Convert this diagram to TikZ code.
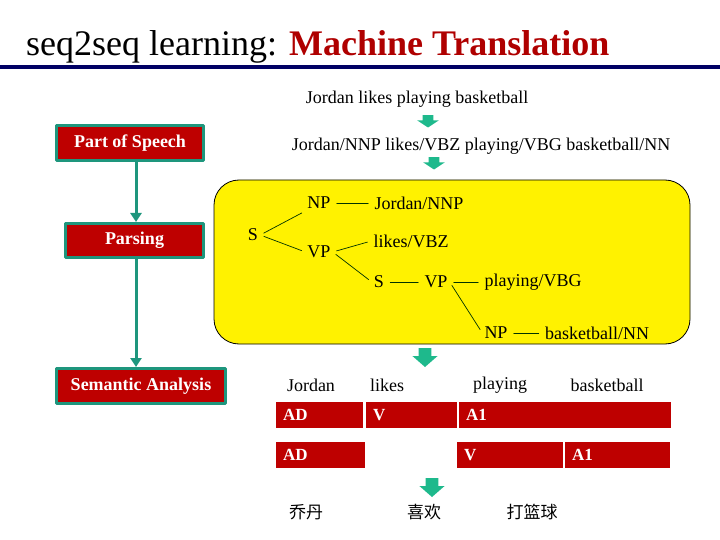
\documentclass[tikz,border=0pt]{standalone}
\usepackage{fontspec}
\setmainfont{Liberation Serif}
\newfontfamily\cjk{Noto Sans CJK SC}
\usetikzlibrary{arrows.meta}
\definecolor{boxred}{RGB}{190,0,0}
\definecolor{titlered}{RGB}{175,0,0}
\definecolor{tealline}{RGB}{30,150,125}
\definecolor{arrowgreen}{RGB}{30,185,140}
\definecolor{navyline}{RGB}{0,0,100}
\newcommand{\bodyfont}{\fontsize{18}{22}\selectfont}
\newcommand{\barfont}{\fontsize{17}{20}\selectfont}
\newcommand{\titlefont}{\fontsize{36}{40}\selectfont}
% dikke groene pijl omlaag: x, y, xscale, yscale
\newcommand{\blockdown}[4]{%
\fill[arrowgreen, shift={(#1,#2)}, xscale=#3, yscale=#4]
  (-6,-9) -- (6,-9) -- (6,-1) -- (12,-1) -- (0,10) -- (-12,-1) -- (-6,-1) -- cycle;}

\begin{document}
\begin{tikzpicture}[line cap=round,line join=round,x=1pt,y=-1pt,
  every node/.style={font=\bodyfont},
  stepbox/.style={draw=tealline,line width=3pt,fill=boxred,text=white,font=\bodyfont\bfseries},
  flow/.style={draw=tealline,line width=3pt,-{Triangle[width=11pt,length=9pt]}},
  bar/.style={fill=boxred,text=white,font=\barfont\bfseries,anchor=west,minimum height=26,inner xsep=7pt,align=left},
  branch/.style={draw=black!80!green,line width=0.7pt,shorten <=4pt,shorten >=4pt},
  leaf/.style={inner sep=2pt}]
\useasboundingbox (0,0) rectangle (720,540);

%titel
\node[anchor=base west,inner sep=0,font=\titlefont] (title) at (26,56)
  {seq2seq learning: \textcolor{titlered}{\bfseries Machine Translation}};
\draw[navyline,line width=4pt,line cap=butt] (0,67) -- (720,67);

%zinnen bovenaan
\node (sent) at (417,99) {Jordan likes playing basketball};
\node (tagged) at (481,146) {Jordan/NNP likes/VBZ playing/VBG basketball/NN};
\blockdown{428}{121}{0.9}{0.65}
\blockdown{434}{163}{0.9}{0.65}

%stappen links
\node[stepbox,minimum width=147,minimum height=35] (pos) at (130,143) {Part of Speech};
\node[stepbox,minimum width=138,minimum height=34] (pars) at (134.5,240.5) {Parsing};
\node[stepbox,minimum width=169,minimum height=35] (sem) at (141,386) {Semantic Analysis};
\coordinate (mid) at (136,0);
\draw[flow] (pos.south -| mid) -- (pars.north -| mid);
\draw[flow] (pars.south -| mid) -- (sem.north -| mid);

%parse boom
\node[draw,fill=yellow,line width=0.8pt,rounded corners=25pt,minimum width=476,minimum height=164] (treebox) at (452,262) {};
\node[leaf] (s1) at (253,235) {S};
\node[leaf] (np1) at (319,203) {NP};
\node[leaf] (vp1) at (319,252) {VP};
\node[leaf] (jor) at (419,203) {Jordan/NNP};
\node[leaf] (lik) at (411,241) {likes/VBZ};
\node[leaf] (s2) at (379,282) {S};
\node[leaf] (vp2) at (436,282) {VP};
\node[leaf] (pla) at (533,282) {playing/VBG};
\node[leaf] (np2) at (496,333) {NP};
\node[leaf] (bas) at (597,333) {basketball/NN};
\draw[branch] (s1.east) -- (np1.south west);
\draw[branch] (s1.east) -- (vp1.west);
\draw[branch] (np1) -- (jor);
\draw[branch] (vp1.east) -- (lik.west);
\draw[branch] (vp1.east) -- (s2.west);
\draw[branch] (s2) -- (vp2);
\draw[branch] (vp2) -- (pla);
\draw[branch] (vp2.east) -- (np2.west);
\draw[branch] (np2) -- (bas);
\blockdown{425}{357}{1.05}{1}

%semantische rollen
\node (w1) at (311,385) {Jordan};
\node (w2) at (387,385) {likes};
\node (w3) at (500,385) {playing};
\node (w4) at (607,385) {basketball};
\foreach \x/\tw/\y/\t/\n in {276/73/415/AD/ra, 366/77/415/V/rb, 459/198/415/A1/rc,
  276/75/455/AD/rd, 457/92/455/V/re, 565/91/455/A1/rf}
  \node[bar,text width=\tw] (\n) at (\x,\y) {\t};
\blockdown{432}{487}{1.05}{1}

%vertaling
\node[font={\cjk\fontsize{17}{20}\selectfont}] (c1) at (306,512) {乔丹};
\node[font={\cjk\fontsize{17}{20}\selectfont}] (c2) at (424,512) {喜欢};
\node[font={\cjk\fontsize{17}{20}\selectfont}] (c3) at (532,512) {打篮球};
\end{tikzpicture}
\end{document}
